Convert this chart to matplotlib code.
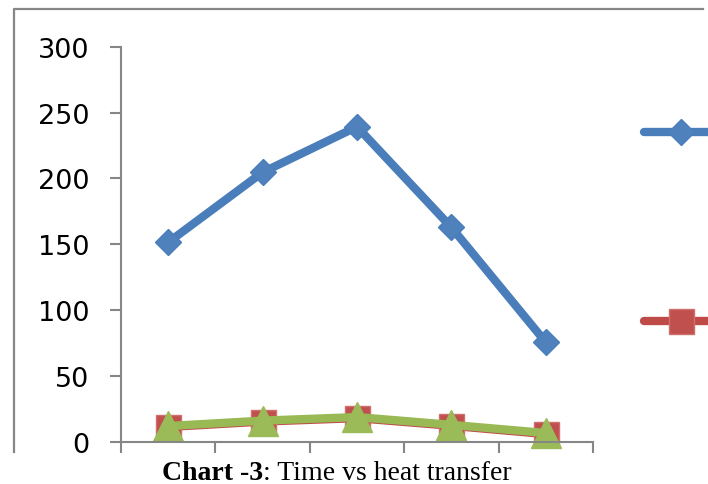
import matplotlib.pyplot as plt
from matplotlib.lines import Line2D

# values (no x tick labels are shown)
series1 = [151.4, 204.6, 239.2, 162.8, 75.5]
series2 = [11.2, 15.3, 17.9, 12.1, 5.8]
series3 = [11.9, 16.0, 18.7, 12.8, 6.6]
y_ticks = [0, 50, 100, 150, 200, 250, 300]

W, H = 708, 485
AXIS = "#868686"

fig = plt.figure(figsize=(W / 100, H / 100), dpi=100)
ax = fig.add_axes([121 / W, (H - 442.7) / H, (593 - 121) / W, (442.7 - 47.7) / H])

styles = [
    dict(color="#4A7EBB", marker="D", ms=13.5, mfc="#4F81BD", mec="#4A7EBB"),
    dict(color="#BE4B48", marker="s", ms=18, mfc="#C0504D", mec="#D0706D"),
    dict(color="#98B954", marker="^", ms=21, mfc="#9BBB59", mec="#9BBB59"),
]
x = list(range(len(series1)))
for vals, st in zip([series1, series2, series3], styles):
    ax.plot(x, vals, lw=6, solid_capstyle="round", solid_joinstyle="round",
            mew=1, clip_on=False, **st)

ax.set_xlim(-0.5, len(series1) - 0.5)
ax.set_ylim(0, 300)
ax.set_xticks([i - 0.5 for i in range(len(series1) + 1)])
ax.set_xticklabels([])
ax.set_yticks(y_ticks)
ax.tick_params(axis="both", direction="out", length=8, width=1.5, color=AXIS)
ax.tick_params(axis="y", pad=15, labelsize=19.5)
for s in ["top", "right"]:
    ax.spines[s].set_visible(False)
for s in ["left", "bottom"]:
    ax.spines[s].set_color(AXIS)
    ax.spines[s].set_linewidth(1.5)

# legend keys (labels fall outside the cropped picture)
for i, st in enumerate(styles):
    yy = (H - (133.3 + 188.4 * i)) / H
    fig.add_artist(Line2D([644 / W, 1.02], [yy, yy], transform=fig.transFigure,
                          lw=6, solid_capstyle="round", color=st["color"]))
    fig.add_artist(Line2D([681 / W], [yy], transform=fig.transFigure, lw=0,
                          marker=st["marker"], ms=st["ms"], mfc=st["mfc"],
                          mec=st["mec"], mew=1))

# outer chart border (top and left visible)
fig.add_artist(Line2D([13.5 / W, 13.5 / W, 703 / W], [(H - 453) / H, (H - 9.5) / H, (H - 9.5) / H],
                      transform=fig.transFigure, color=AXIS, lw=1.6))

# caption
fig.text(263 / W, 5 / H, "Chart -3", ha="right", va="baseline",
         fontsize=20, fontweight="bold", family="Liberation Serif")
fig.text(263 / W, 5 / H, ": Time vs heat transfer", ha="left", va="baseline",
         fontsize=20, family="Liberation Serif")

fig.savefig("out.png", dpi=100)
